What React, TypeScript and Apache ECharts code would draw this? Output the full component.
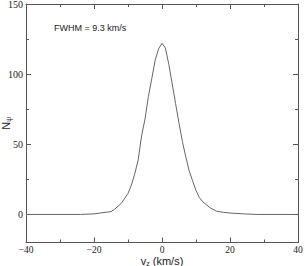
import React, { useEffect, useRef } from "react";
import * as echarts from "echarts";

const vz = [-40, -30, -24, -20, -18, -16, -15, -14, -12, -10, -9, -8, -7, -6, -5, -4, -3, -2, -1, 0, 1, 2, 3, 4, 5, 6, 7, 8, 9, 10, 11, 12, 14, 16, 18, 20, 24, 28, 40];
const counts = [0, 0, 0, 0.4, 1.1, 1.7, 2.0, 3.6, 7.8, 15, 21, 29, 39, 56, 68, 84, 97, 110, 118, 122, 118.6, 107, 93, 79, 65, 52, 41, 31, 24, 17, 12, 9, 5, 2.3, 1.5, 1.0, 0.4, 0, 0];
const xTicks = [-40, -20, 0, 20, 40];
const yTicks = [0, 50, 100, 150];
const yMinorTicks = [25, 75, 125];
const annotation = "FWHM = 9.3 km/s";

export default function App() {
  const ref = useRef<HTMLDivElement>(null);
  useEffect(() => {
    if (!ref.current) return;
    const chart = echarts.init(ref.current, undefined, { renderer: "svg" });
    const axisColor = "#555";
    const labelFont = { fontFamily: "Liberation Serif", fontSize: 10, color: "#222" };
    const axisLine = { show: true, onZero: false, lineStyle: { color: axisColor, width: 1 } };
    const xCommon = {
      type: "value", min: -40, max: 40, interval: 20,
      axisLine,
      axisTick: { show: true, inside: true, length: 5, lineStyle: { color: axisColor } },
      minorTick: { show: true, splitNumber: 2, length: 3, lineStyle: { color: axisColor } },
      splitLine: { show: false },
    };
    const yMajor = (pos: string, labels: boolean) => ({
      type: "value", min: -20, max: 150, position: pos,
      axisLine,
      axisTick: { show: true, inside: true, length: 5, customValues: yTicks, lineStyle: { color: axisColor } },
      axisLabel: labels
        ? { ...labelFont, margin: 3, customValues: yTicks, formatter: (v: number) => String(v) }
        : { show: false },
      splitLine: { show: false },
    });
    const yMinor = (pos: string) => ({
      type: "value", min: -20, max: 150, position: pos,
      axisLine: { show: false, onZero: false },
      axisTick: { show: true, inside: true, length: 3, customValues: yMinorTicks, lineStyle: { color: axisColor } },
      axisLabel: { show: false },
      splitLine: { show: false },
    });
    chart.setOption({
      animation: false,
      grid: { left: 26, right: 7, top: 4, bottom: 23.5, containLabel: false, outerBoundsMode: "none" },
      xAxis: [
        {
          ...xCommon, position: "bottom",
          axisLabel: { ...labelFont, fontSize: 9.5, margin: 2, formatter: (v: number) => (xTicks.includes(v) ? String(v).replace("-", "\u2212") : "") },
          name: "{v|v}{s|z}{u| (km/s)}",
          nameLocation: "middle",
          nameGap: 11.5,
          nameMoveOverlap: false,
          nameTextStyle: {
            verticalAlign: "top",
            rich: {
              v: { fontFamily: "Liberation Sans", fontSize: 11, color: "#222" },
              s: { fontFamily: "Liberation Sans", fontSize: 7, color: "#222", verticalAlign: "bottom", padding: [6, 0, 0, 0] },
              u: { fontFamily: "Liberation Sans", fontSize: 11, color: "#222" },
            },
          },
        },
        { ...xCommon, position: "top", axisLabel: { show: false } },
      ],
      yAxis: [
        {
          ...yMajor("left", true),
          name: "{n|N}{s|\u03c8}",
          nameLocation: "middle",
          nameGap: 14,
          nameMoveOverlap: false,
          nameTextStyle: {
            rich: {
              n: { fontFamily: "Liberation Sans", fontSize: 11, color: "#222" },
              s: { fontFamily: "Liberation Sans", fontSize: 7, color: "#222", verticalAlign: "bottom", padding: [6, 0, 0, 0] },
            },
          },
        },
        yMajor("right", false),
        yMinor("left"),
        yMinor("right"),
      ],
      series: [
        {
          type: "line",
          data: vz.map((x, i) => [x, counts[i]]),
          showSymbol: false,
          lineStyle: { color: "#666", width: 1 },
          xAxisIndex: 0,
          yAxisIndex: 0,
        },
      ],
      graphic: [
        {
          type: "text",
          left: 54,
          top: 23,
          style: { text: annotation, fontFamily: "Liberation Sans", fontSize: 9, fill: "#222" },
        },
      ],
    });
    return () => chart.dispose();
  }, []);
  return <div ref={ref} style={{ width: 305, height: 266, position: "absolute", left: 0, top: 0 }} />;
}
